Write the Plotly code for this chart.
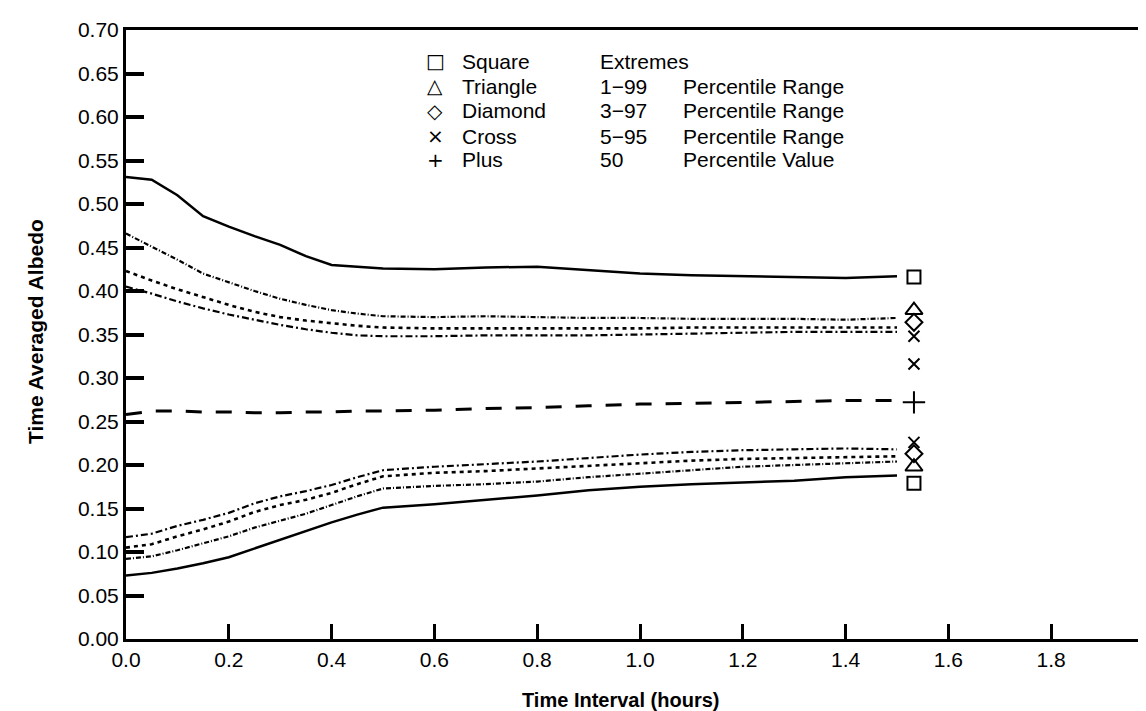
import plotly.graph_objects as go

# ---------------- data ----------------
time_h = [0.0, 0.05, 0.1, 0.15, 0.2, 0.25, 0.3, 0.35, 0.4, 0.45, 0.5,
          0.6, 0.7, 0.8, 0.9, 1.0, 1.1, 1.2, 1.3, 1.4, 1.5]

upper_max = [0.531, 0.528, 0.510, 0.486, 0.474, 0.463, 0.453, 0.440, 0.430, 0.428, 0.426,
             0.425, 0.427, 0.428, 0.424, 0.420, 0.418, 0.417, 0.416, 0.415, 0.417]
upper_p99 = [0.466, 0.451, 0.436, 0.420, 0.410, 0.400, 0.391, 0.384, 0.378, 0.374, 0.371,
             0.370, 0.371, 0.370, 0.369, 0.369, 0.368, 0.368, 0.368, 0.367, 0.369]
upper_p97 = [0.423, 0.412, 0.402, 0.393, 0.384, 0.376, 0.370, 0.366, 0.363, 0.360, 0.358,
             0.357, 0.357, 0.357, 0.357, 0.357, 0.358, 0.358, 0.358, 0.358, 0.358]
upper_p95 = [0.405, 0.397, 0.388, 0.380, 0.373, 0.367, 0.361, 0.356, 0.352, 0.349, 0.348,
             0.348, 0.349, 0.349, 0.349, 0.350, 0.351, 0.352, 0.353, 0.353, 0.353]
median_p50 = [0.258, 0.262, 0.262, 0.261, 0.261, 0.260, 0.260, 0.261, 0.261, 0.262, 0.262,
              0.263, 0.265, 0.266, 0.268, 0.270, 0.271, 0.272, 0.273, 0.274, 0.274]
lower_p5 = [0.117, 0.121, 0.130, 0.137, 0.145, 0.156, 0.164, 0.170, 0.177, 0.186, 0.194,
            0.198, 0.201, 0.204, 0.208, 0.212, 0.215, 0.217, 0.218, 0.219, 0.218]
lower_p3 = [0.105, 0.109, 0.118, 0.126, 0.135, 0.146, 0.154, 0.160, 0.168, 0.178, 0.187,
            0.191, 0.193, 0.196, 0.199, 0.202, 0.205, 0.207, 0.208, 0.209, 0.210]
lower_p1 = [0.092, 0.095, 0.102, 0.110, 0.118, 0.128, 0.136, 0.144, 0.154, 0.164, 0.173,
            0.176, 0.178, 0.181, 0.186, 0.190, 0.194, 0.198, 0.200, 0.202, 0.204]
lower_min = [0.073, 0.076, 0.081, 0.087, 0.094, 0.104, 0.114, 0.124, 0.134, 0.143, 0.151,
             0.155, 0.160, 0.165, 0.171, 0.175, 0.178, 0.180, 0.182, 0.186, 0.188]

marker_x = 1.533
square_vals = [0.416, 0.179]
triangle_vals = [0.378, 0.198]
diamond_vals = [0.364, 0.213]
cross_vals = [0.348, 0.316, 0.226]
plus_vals = [0.272]

x_ticks = [0.0, 0.2, 0.4, 0.6, 0.8, 1.0, 1.2, 1.4, 1.6, 1.8]
y_ticks = [round(0.05 * i, 2) for i in range(15)]

legend_symbols = ["\u25a1", "\u25b3", "\u25c7", "\u00d7", "+"]
legend_names = ["Square", "Triangle", "Diamond", "Cross", "Plus"]
legend_ranges = ["Extremes", "1\u221299", "3\u221297", "5\u221295", "50"]
legend_desc = ["", "Percentile Range", "Percentile Range", "Percentile Range", "Percentile Value"]

# ---------------- figure ----------------
W, H = 1146, 711
ML, MR, MT, MB = 118, 0, 22, 80
PW, PH = W - ML - MR, H - MT - MB

FONT = "Liberation Sans, Arial, Helvetica, sans-serif"

fig = go.Figure()

line_specs = [
    (upper_max, "solid", 2.5),
    (upper_p99, "5px,2px,1px,2px", 2.2),
    (upper_p97, "4px,4px", 2.6),
    (upper_p95, "7px,3px,2px,3px", 2.2),
    (median_p50, "16px,14px", 3),
    (lower_p5, "7px,3px,2px,3px", 2.2),
    (lower_p3, "4px,4px", 2.6),
    (lower_p1, "5px,2px,1px,2px", 2.2),
    (lower_min, "solid", 2.5),
]
for vals, dash, w in line_specs:
    fig.add_trace(go.Scatter(x=time_h, y=vals, mode="lines",
                             line=dict(color="black", width=w, dash=dash),
                             showlegend=False, hoverinfo="skip"))

marker_specs = [
    (square_vals, "square-open", 13),
    (triangle_vals, "triangle-up-open", 15),
    (diamond_vals, "diamond-open", 13),
    (cross_vals, "x-thin-open", 11),
    (plus_vals, "cross-thin-open", 16),
]
for vals, sym, size in marker_specs:
    fig.add_trace(go.Scatter(x=[marker_x] * len(vals), y=vals, mode="markers",
                             marker=dict(symbol=sym, size=size, color="black",
                                         line=dict(color="black", width=2)),
                             showlegend=False, hoverinfo="skip"))

def px_x(p):
    return (p - ML) / PW

def px_y(p):
    return (H - MB - p) / PH

row_y = [53, 78, 103, 128, 152]
for i in range(5):
    yy = px_y(row_y[i])
    fig.add_annotation(x=px_x(427), y=yy, xref="paper", yref="paper",
                       text=legend_symbols[i], showarrow=False, xanchor="center",
                       yanchor="middle", font=dict(family="DejaVu Sans", size=20, color="black"))
    fig.add_annotation(x=px_x(452), y=yy, xref="paper", yref="paper",
                       text=legend_names[i], showarrow=False, xanchor="left",
                       yanchor="middle", font=dict(family=FONT, size=21, color="black"))
    fig.add_annotation(x=px_x(590), y=yy, xref="paper", yref="paper",
                       text=legend_ranges[i], showarrow=False, xanchor="left",
                       yanchor="middle", font=dict(family=FONT, size=21, color="black"))
    if legend_desc[i]:
        fig.add_annotation(x=px_x(673), y=yy, xref="paper", yref="paper",
                           text=legend_desc[i], showarrow=False, xanchor="left",
                           yanchor="middle", font=dict(family=FONT, size=21, color="black"))

# axis titles
fig.add_annotation(x=px_x(612), y=px_y(692), xref="paper", yref="paper",
                   text="<b>Time Interval (hours)</b>", showarrow=False,
                   xanchor="center", yanchor="middle",
                   font=dict(family=FONT, size=20, color="black"))
fig.add_annotation(x=px_x(28), y=px_y(324), xref="paper", yref="paper",
                   text="<b>Time Averaged Albedo</b>", showarrow=False, textangle=-90,
                   xanchor="center", yanchor="middle",
                   font=dict(family=FONT, size=21, color="black"))

fig.update_layout(
    width=W, height=H,
    margin=dict(l=ML, r=MR, t=MT, b=MB, pad=0),
    paper_bgcolor="white", plot_bgcolor="white",
    showlegend=False,
    xaxis=dict(range=[0, 2.0], tickvals=x_ticks,
               ticktext=[f"{v:.1f}" for v in x_ticks],
               ticks="inside", ticklen=15, tickwidth=2.5, tickcolor="black",
               showline=True, linewidth=3, linecolor="black", mirror=True,
               showgrid=False, zeroline=False,
               tickfont=dict(family=FONT, size=21, color="black")),
    yaxis=dict(range=[0, 0.70], tickvals=y_ticks,
               ticktext=[f"{v:.2f}" for v in y_ticks],
               ticks="inside", ticklen=18, tickwidth=3.5, tickcolor="black",
               showline=True, linewidth=3, linecolor="black", mirror=False,
               showgrid=False, zeroline=False,
               tickfont=dict(family=FONT, size=21, color="black")),
)

fig.write_html("out.html")
